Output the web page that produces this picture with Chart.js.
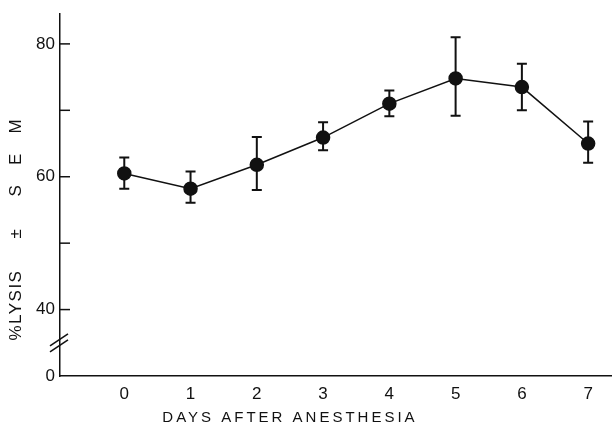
<!DOCTYPE html>
<html>
<head>
<meta charset="utf-8">
<script src="https://cdn.jsdelivr.net/npm/chart.js@4.4.0/dist/chart.umd.min.js"></script>
<style>
  html, body { margin: 0; padding: 0; background: #fff; }
  #wrap { width: 612px; height: 426px; }
</style>
</head>
<body>
<div id="wrap"><canvas id="lysisChart" width="612" height="426"></canvas></div>
<script>
// data
const days = [0, 1, 2, 3, 4, 5, 6, 7];
const lysis = [60.5, 58.2, 61.8, 65.9, 71.0, 74.8, 73.5, 65.0];
const semHigh = [62.9, 60.8, 66.0, 68.2, 73.0, 81.0, 77.0, 68.3];
const semLow = [58.2, 56.1, 58.0, 64.0, 69.1, 69.2, 70.0, 62.1];

// the y axis is broken: the bottom of the axis (30 on the scale) is labelled 0
const yTicks = [30, 40, 50, 60, 70, 80];
const yTickLabels = { 30: "0", 40: "40", 60: "60", 80: "80" };
const xTitle = "DAYS AFTER ANESTHESIA";
const yTitle = "%LYSIS     ±     S   E   M";

const INK = "#111";

const decor = {
  id: "decor",
  beforeDatasetsDraw(chart) {
    const { ctx } = chart;
    const x = chart.scales.x;
    const y = chart.scales.y;
    ctx.save();
    ctx.strokeStyle = INK;
    ctx.lineWidth = 2;
    // error bars
    days.forEach((d, i) => {
      const px = x.getPixelForValue(d);
      const top = y.getPixelForValue(semHigh[i]);
      const bot = y.getPixelForValue(semLow[i]);
      ctx.beginPath();
      ctx.moveTo(px, top);
      ctx.lineTo(px, bot);
      ctx.moveTo(px - 5, top);
      ctx.lineTo(px + 5, top);
      ctx.moveTo(px - 5, bot);
      ctx.lineTo(px + 5, bot);
      ctx.stroke();
    });
    ctx.restore();
  },
  afterDraw(chart) {
    const { ctx, chartArea } = chart;
    const x = chart.scales.x;
    const y = chart.scales.y;
    const ax = chartArea.left;
    ctx.save();
    ctx.strokeStyle = INK;
    ctx.lineWidth = 1.5;
    // inward tick marks
    yTicks.slice(1).forEach((v) => {
      const py = y.getPixelForValue(v);
      ctx.beginPath();
      ctx.moveTo(ax, py);
      ctx.lineTo(ax + 10, py);
      ctx.stroke();
    });
    // axis break
    const by = y.getPixelForValue(35);
    [-3, 3].forEach((off) => {
      ctx.beginPath();
      ctx.moveTo(ax - 10, by + off + 6);
      ctx.lineTo(ax + 8, by + off - 6);
      ctx.stroke();
    });
    // axis titles
    ctx.fillStyle = INK;
    ctx.font = "15px 'Liberation Sans'";
    ctx.textAlign = "center";
    ctx.textBaseline = "middle";
    ctx.letterSpacing = "3px";
    ctx.fillText(xTitle, x.getPixelForValue(2.5), 418);
    ctx.font = "17px 'Liberation Sans'";
    ctx.letterSpacing = "1.5px";
    ctx.translate(16, y.getPixelForValue(52.1));
    ctx.rotate(-Math.PI / 2);
    ctx.fillText(yTitle, 0, 0);
    ctx.restore();
  },
};

new Chart(document.getElementById("lysisChart"), {
  type: "line",
  data: {
    datasets: [
      {
        data: days.map((d, i) => ({ x: d, y: lysis[i] })),
        borderColor: INK,
        borderWidth: 1.5,
        backgroundColor: INK,
        pointBackgroundColor: INK,
        pointBorderColor: INK,
        pointRadius: 6.5,
        tension: 0,
        fill: false,
        clip: false,
      },
    ],
  },
  options: {
    responsive: false,
    animation: false,
    layout: { autoPadding: false, padding: { top: 14, right: 0, left: 0, bottom: 0 } },
    plugins: { legend: { display: false }, tooltip: { enabled: false } },
    scales: {
      x: {
        type: "linear",
        min: -0.97,
        max: 7.36,
        afterBuildTicks: (s) => { s.ticks = days.map((v) => ({ value: v })); },
        afterFit: (s) => { s.height = 50; s.paddingLeft = 0; s.paddingRight = 0; },
        grid: { display: false, drawTicks: false },
        border: { color: INK, width: 1.5 },
        ticks: {
          padding: 8,
          color: INK,
          font: { family: "'Liberation Sans'", size: 17 },
        },
      },
      y: {
        min: 30,
        max: 84.5,
        afterBuildTicks: (s) => { s.ticks = yTicks.map((v) => ({ value: v })); },
        afterFit: (s) => { s.width = 60; s.paddingTop = 0; s.paddingBottom = 0; },
        grid: { display: false, drawTicks: false },
        border: { color: INK, width: 1.5 },
        ticks: {
          padding: 5,
          color: INK,
          font: { family: "'Liberation Sans'", size: 17 },
          callback: (v) => yTickLabels[v] ?? "",
        },
      },
    },
  },
  plugins: [decor],
});
</script>
</body>
</html>
